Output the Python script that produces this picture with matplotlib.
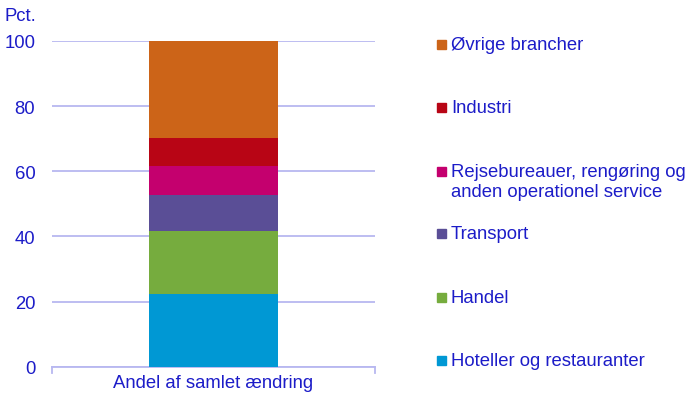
import matplotlib
matplotlib.use("Agg")
from matplotlib import pyplot as plt
from matplotlib.patches import Rectangle

plt.rcParams['font.family'] = ['Liberation Sans', 'DejaVu Sans']

# data (pct. of total change), bottom to top
kategori = ["Andel af samlet ændring"]
brancher = ["Hoteller og restauranter", "Handel", "Transport",
            "Rejsebureauer, rengøring og\nanden operationel service",
            "Industri", "Øvrige brancher"]
andele = [22.3, 19.5, 10.8, 9.0, 8.5, 29.9]
farver = ["#0098D4", "#76AC3E", "#5A4E96", "#C4006E", "#B80515", "#CC6418"]
yticks = [0, 20, 40, 60, 80, 100]

tekst = "#1C1CC8"
gitter = "#B8B8F0"
fs = 13.3

fig = plt.figure(figsize=(7, 4.06), dpi=100)
ax = fig.add_axes([52/700, 38.3/406, 323/700, 325.7/406])

bund = 0
for navn, v, c in zip(brancher, andele, farver):
    ax.bar(0, v, width=0.4, bottom=bund, color=c, label=navn, zorder=3)
    bund += v

ax.set_xlim(-0.5, 0.5)
ax.set_ylim(0, 100)
ax.set_yticks(yticks)
ax.set_yticklabels([str(t) for t in yticks], color=tekst, fontsize=fs)
ax.set_xticks([0])
ax.set_xticklabels(kategori, color=tekst, fontsize=fs)
ax.tick_params(axis='y', length=0, pad=12)
ax.tick_params(axis='x', length=0, pad=5)
ax.grid(axis='y', color=gitter, linewidth=1.3, zorder=0)
for s in ['top', 'right', 'left']:
    ax.spines[s].set_visible(False)
ax.spines['bottom'].set_color(gitter)
ax.spines['bottom'].set_linewidth(1.3)
# small end ticks on the category axis
for xe in (-0.5, 0.5):
    ax.plot([xe, xe], [0, -1.8], color=gitter, lw=1.3, clip_on=False)

fig.text(5/700, 1 - 21/406, "Pct.", color=tekst, fontsize=fs, va='baseline', ha='left')

# legend, top entry first
ypos = [45, 108, 172, 234, 298, 361]
for navn, c, yp in zip(brancher[::-1], farver[::-1], ypos):
    fig.patches.append(Rectangle((437/700, 1 - (yp + 4.5)/406), 9/700, 9/406,
                                 transform=fig.transFigure, color=c))
    fig.text(451/700, 1 - (yp - 8)/406, navn, color=tekst, fontsize=fs,
             va='top', ha='left', linespacing=1.25)

fig.savefig("out.png", dpi=100)
